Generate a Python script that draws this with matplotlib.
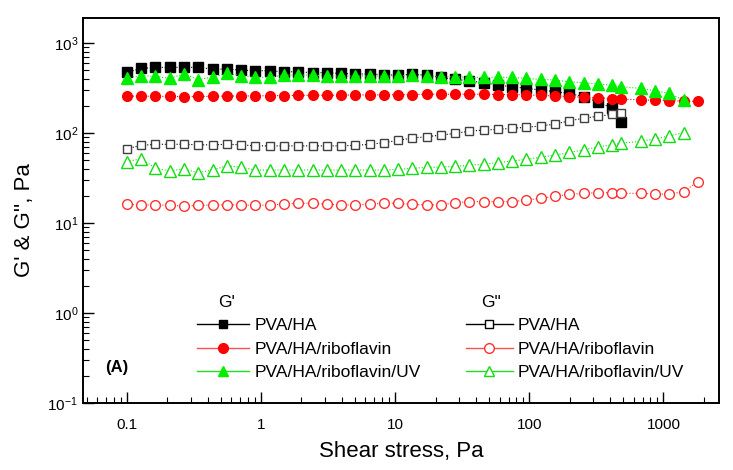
import matplotlib
matplotlib.use('Agg')
import matplotlib.pyplot as plt
from matplotlib.lines import Line2D

plt.rcParams['font.family'] = ['Liberation Sans', 'DejaVu Sans']
plt.rcParams['mathtext.default'] = 'regular'

# shear stress sweep, Pa
stress = [0.100, 0.128, 0.163, 0.209, 0.266, 0.340, 0.435, 0.556, 0.710, 0.907,
          1.16, 1.48, 1.89, 2.42, 3.09, 3.94, 5.04, 6.44, 8.22, 10.5,
          13.4, 17.2, 21.9, 28.0, 35.8, 45.7, 58.4, 74.6, 95.3, 122,
          156, 199, 254, 324, 415, 483, 677, 865, 1105, 1412, 1804]

# PVA/HA (36 points)
gp_pva = [472, 523, 537, 537, 537, 537, 514, 514, 501, 493,
          493, 480, 480, 468, 468, 460, 453, 453, 445, 441,
          450, 441, 416, 395, 381, 362, 341, 327, 314, 300,
          288, 276, 253, 223, 188, 134]
gpp_pva = [67, 73, 75, 75, 75, 74, 74, 75, 74, 72,
           72, 72, 72, 72, 72, 72, 73, 75, 78, 83,
           88, 91, 95, 99, 105, 108, 110, 113, 116, 120,
           126, 137, 146, 154, 161, 165]

# PVA/HA/riboflavin (41 points)
gp_rib = [258, 256, 257, 255, 254, 255, 256, 258, 258, 259,
          260, 261, 262, 263, 263, 264, 265, 265, 266, 266,
          268, 270, 270, 270, 270, 270, 268, 268, 266, 262,
          258, 254, 250, 246, 242, 238, 234, 231, 229, 227, 225]
gpp_rib = [16.1, 15.9, 15.9, 15.7, 15.5, 15.7, 15.9, 15.9, 15.9, 15.7,
           15.9, 16.2, 16.6, 16.6, 16.2, 15.9, 15.9, 16.2, 16.6, 16.6,
           16.1, 15.9, 15.9, 16.8, 17.3, 17.3, 17.3, 17.3, 18.0, 18.8,
           19.9, 20.8, 21.4, 21.7, 21.7, 21.4, 21.4, 21.0, 21.0, 22.3, 28.8]

# PVA/HA/riboflavin/UV (40 points)
gp_uv = [410, 435, 426, 405, 456, 392, 419, 460, 435, 416,
         416, 441, 441, 441, 430, 430, 430, 430, 430, 430,
         441, 430, 423, 423, 416, 416, 416, 416, 405, 395,
         388, 372, 362, 350, 341, 327, 314, 295, 276, 233]
gpp_uv = [48, 52, 40.5, 38, 39.8, 36.2, 38.8, 43.4, 41.6, 38.8,
          38.8, 38.8, 38.8, 38.8, 38.8, 38.8, 38.8, 38.8, 38.8, 39.5,
          40.5, 41.5, 42, 42.5, 44, 45, 47, 49, 51, 54,
          57, 61, 65, 70, 74, 77, 81, 86, 93, 101]

labels = ['PVA/HA', 'PVA/HA/riboflavin', 'PVA/HA/riboflavin/UV']

fig = plt.figure(figsize=(7.33, 4.70), dpi=100)
ax = fig.add_axes([0.1132, 0.1426, 0.8678, 0.8191])

dot = dict(ls=':', lw=0.8)
ax.plot(stress[:36], gp_pva, color='black', marker='s', ms=7, mfc='black', mec='black', **dot)
ax.plot(stress, gp_rib, color='red', marker='o', ms=7, mfc='red', mec='red', **dot)
ax.plot(stress[:40], gp_uv, color='#00ee00', marker='^', ms=8, mfc='#00ee00', mec='#00ee00', **dot)
ax.plot(stress[:36], gpp_pva, color='black', marker='s', ms=6, mfc='white', mec='#404040', mew=1.0, **dot)
ax.plot(stress, gpp_rib, color='#ff3030', marker='o', ms=7, mfc='white', mec='#ff3030', mew=1.0, **dot)
ax.plot(stress[:40], gpp_uv, color='#11dd11', marker='^', ms=8, mfc='white', mec='#11dd11', mew=1.0, **dot)

ax.set_xscale('log')
ax.set_yscale('log')
ax.set_xlim(0.047, 2600)
ax.set_ylim(0.1, 1900)
ax.set_xticks([0.1, 1, 10, 100, 1000])
ax.set_xticklabels(['0.1', '1', '10', '100', '1000'])
ax.tick_params(which='both', direction='in', top=False, right=False, labelsize=11)
ax.tick_params(which='major', length=8, width=1)
ax.tick_params(which='minor', length=4.5, width=0.8)
ax.tick_params(axis='x', pad=11)
for s in ax.spines.values():
    s.set_linewidth(1.4)

ax.set_xlabel('Shear stress, Pa', fontsize=16, labelpad=6)
ax.set_ylabel("G' & G'', Pa", fontsize=16)
ax.yaxis.set_label_coords(-0.075, 0.475)

h1 = [Line2D([], [], color='black', lw=1, marker='s', ms=6, mfc='black', mec='black'),
      Line2D([], [], color='#ff5050', lw=1, marker='o', ms=7, mfc='red', mec='red'),
      Line2D([], [], color='#22dd22', lw=1, marker='^', ms=7.5, mfc='#00ee00', mec='#00ee00')]
h2 = [Line2D([], [], color='black', lw=1, marker='s', ms=5.5, mfc='white', mec='black'),
      Line2D([], [], color='#ff5050', lw=1, marker='o', ms=7, mfc='white', mec='#ff3030'),
      Line2D([], [], color='#22dd22', lw=1, marker='^', ms=7.5, mfc='white', mec='#11dd11')]

leg_kw = dict(frameon=False, fontsize=12.5, handletextpad=0.3,
              labelspacing=0.48, borderpad=0, borderaxespad=0, loc='upper left')
leg1 = ax.legend(h1, labels, handlelength=3.0,
                 bbox_to_anchor=((197 - 83) / 636, (403 - 318) / 385), **leg_kw)
ax.add_artist(leg1)
ax.legend(h2, labels, handlelength=2.7,
          bbox_to_anchor=((466 - 83) / 636, (403 - 318) / 385), **leg_kw)

ax.text((218 - 83) / 636, (403 - 303) / 385, "G'", transform=ax.transAxes,
        fontsize=12.5, va='center', ha='left')
ax.text((481 - 83) / 636, (403 - 303) / 385, 'G"', transform=ax.transAxes,
        fontsize=12.5, va='center', ha='left')
ax.text((105 - 83) / 636, (403 - 368) / 385, '(A)', transform=ax.transAxes,
        fontsize=12, fontweight='bold', va='center', ha='left')

fig.savefig('out.png', dpi=100)
